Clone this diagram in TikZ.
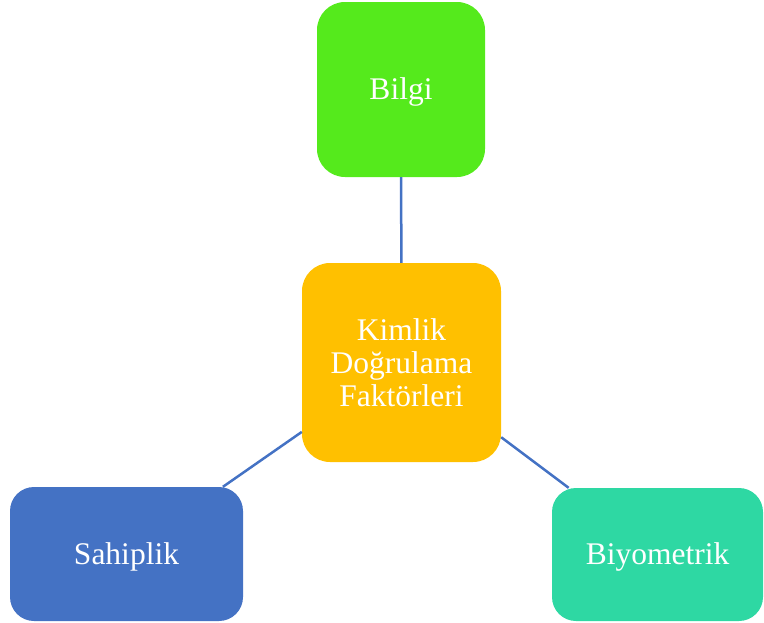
\documentclass[tikz,border=0pt]{standalone}
\usepackage{fontspec}
\setmainfont{Liberation Serif}
\definecolor{cgreen}{HTML}{55EA1C}
\definecolor{corange}{HTML}{FFC000}
\definecolor{cblue}{HTML}{4472C4}
\definecolor{cteal}{HTML}{2ED8A3}
\definecolor{cline}{HTML}{4472C4}
% single-line labels sit a little below the geometric middle
\newcommand{\lowered}[1]{\raisebox{-2.5pt}[\height][\depth]{#1}}
\begin{document}
\begin{tikzpicture}[x=1pt,y=-1pt,
  box/.style={rectangle, rounded corners=28pt, draw=none, text=white,
    align=center, inner sep=0pt,
    font=\fontsize{31.5}{33}\selectfont},
  link/.style={draw=cline, line width=2.5pt}]
  \useasboundingbox (0,0) rectangle (764,622);
  \node[box, fill=cgreen, minimum width=168pt, minimum height=175pt] (bilgi) at (401,89.5) {\lowered{Bilgi}};
  \node[box, fill=corange, minimum width=199pt, minimum height=199pt] (kimlik) at (401.5,362.5) {Kimlik\\Doğrulama\\Faktörleri};
  \node[box, fill=cblue, minimum width=233pt, minimum height=134pt, rounded corners=24pt] (sahip) at (126.5,554) {\lowered{Sahiplik}};
  \node[box, fill=cteal, minimum width=211pt, minimum height=133pt, rounded corners=24pt] (biyo) at (657.5,554.5) {\lowered{Biyometrik}};
  \draw[link] (kimlik) -- (bilgi);
  \draw[link] (kimlik) -- (sahip);
  \draw[link] (kimlik) -- (biyo);
\end{tikzpicture}
\end{document}
